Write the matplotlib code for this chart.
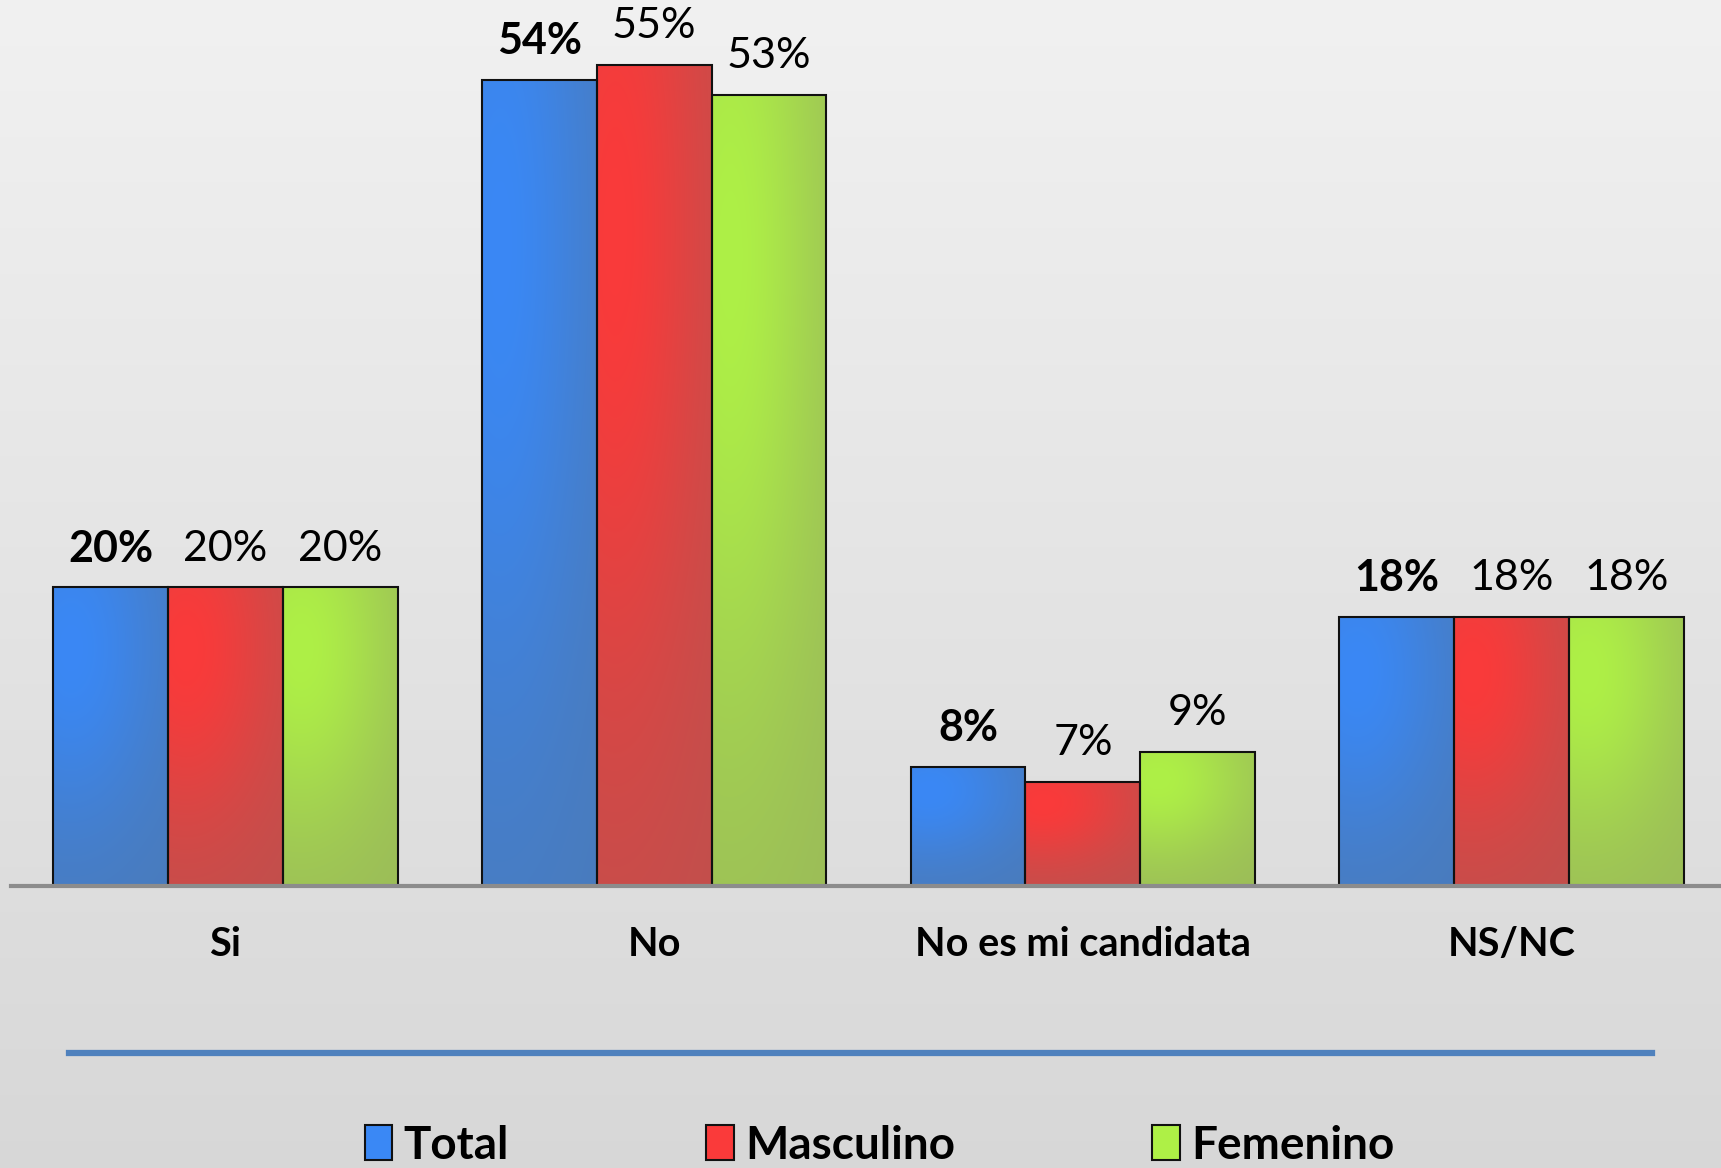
import numpy as np
import matplotlib
matplotlib.use("Agg")
import matplotlib.pyplot as plt
from matplotlib.lines import Line2D
from matplotlib.patches import Patch

# data
categories = ["Si", "No", "No es mi candidata", "NS/NC"]
series = ["Total", "Masculino", "Femenino"]
total = [20, 54, 8, 18]
masculino = [20, 55, 7, 18]
femenino = [20, 53, 9, 18]

# base (muted) and highlight colours per series
BASE = ["#4a7bbb", "#c0504d", "#9bbb59"]
BRIGHT = ["#3a88f5", "#fa3a3a", "#aef046"]

plt.rcParams["font.family"] = ["Lato", "DejaVu Sans"]

W, H = 1721, 1168
fig = plt.figure(figsize=(W / 100, H / 100), dpi=100)

# background: light gray vertical gradient
bg = fig.add_axes([0, 0, 1, 1], zorder=-10)
grad = np.linspace(0, 1, 256)[:, None]
top_c = np.array([0.945, 0.945, 0.945])
bot_c = np.array([0.845, 0.845, 0.845])
bg.imshow(top_c + grad[..., None] * (bot_c - top_c), aspect="auto",
          extent=(0, 1, 0, 1))
bg.set_axis_off()

ax = fig.add_axes([11 / W, 1 - 886 / H, (1726 - 11) / W, 886 / H])
ax.patch.set_alpha(0)
for s in ax.spines.values():
    s.set_visible(False)

x = np.arange(len(categories))
width = 0.268
values = [total, masculino, femenino]


def hex2rgb(c):
    c = c.lstrip("#")
    return np.array([int(c[i:i + 2], 16) / 255 for i in (0, 2, 4)])


def shade_bar(bar, base, bright):
    bx, by = bar.get_x(), bar.get_y()
    bw, bh = bar.get_width(), bar.get_height()
    u = np.linspace(0, 1, 40)[None, :]
    v = np.linspace(0, 1, 80)[:, None]
    w = np.exp(-(((u - 0.15) / 0.8) ** 2 + ((v - 0.2) / 0.6) ** 2))
    b0, b1 = hex2rgb(base), hex2rgb(bright)
    img = b0 + w[..., None] * (b1 - b0)
    im = ax.imshow(img, extent=(bx, bx + bw, by, by + bh), aspect="auto",
                   origin="upper", zorder=2, interpolation="bilinear")
    im.set_clip_path(bar)


for i, (vals, name) in enumerate(zip(values, series)):
    bars = ax.bar(x + (i - 1) * width, vals, width, color=BASE[i],
                  edgecolor="#111111", linewidth=1.5, label=name, zorder=3)
    for bar in bars:
        bar.set_facecolor("none")
        shade_bar(bar, BASE[i], BRIGHT[i])
    for bar, v in zip(bars, vals):
        ax.annotate(f"{v}%", (bar.get_x() + bar.get_width() / 2, v),
                    xytext=(0, 28), textcoords="offset points",
                    ha="center", va="center", fontsize=31,
                    fontweight="bold" if i == 0 else "normal", color="black")

ax.set_xlim(-0.5, 3.5)
ax.set_ylim(0, 59.35)
ax.axhline(0, color="#8c8c8c", lw=3, zorder=4, clip_on=False)
ax.set_yticks([])
ax.set_xticks(x)
ax.set_xticklabels(categories, fontsize=28.5, fontweight="bold")
ax.tick_params(axis="x", length=0, pad=29)

# blue separator line above the legend
fig.add_artist(Line2D([69 / W, 1652 / W], [1 - 1053 / H, 1 - 1053 / H],
                      color="#4f81bd", lw=4.5))

handles = [Patch(facecolor=BRIGHT[i], edgecolor="#111111", linewidth=1.5)
           for i in range(3)]
fig.legend(handles, series, loc="center", bbox_to_anchor=(0.511, 0.019),
           ncol=3, frameon=False, prop={"size": 33, "weight": "bold"},
           handlelength=0.6, handleheight=0.8, handletextpad=0.25,
           columnspacing=4.3)

fig.savefig("out.png", dpi=100)
